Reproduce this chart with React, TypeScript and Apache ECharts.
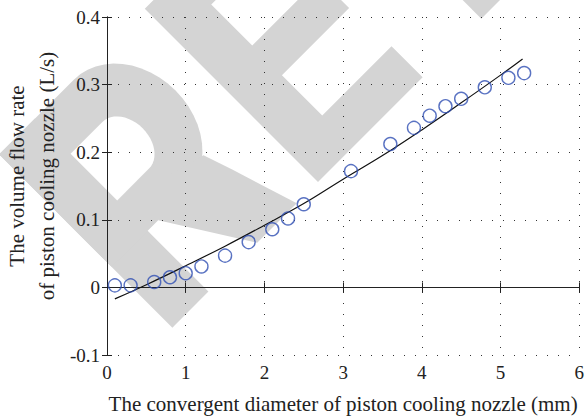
import React, { useEffect, useRef } from "react";
import * as echarts from "echarts";

// Measured points (convergent diameter, mm -> volume flow rate, L/s)
const diameters = [0.1, 0.3, 0.6, 0.8, 1.0, 1.2, 1.5, 1.8, 2.1, 2.3, 2.5, 3.1, 3.6, 3.9, 4.1, 4.3, 4.5, 4.8, 5.1, 5.3];
const flowRates = [0.003, 0.003, 0.008, 0.015, 0.021, 0.031, 0.047, 0.067, 0.086, 0.102, 0.123, 0.172, 0.212, 0.236, 0.254, 0.268, 0.279, 0.296, 0.31, 0.317];

// Fitted curve
const fitX = [0.1, 0.5, 1.0, 1.5, 2.0, 2.5, 3.0, 3.5, 4.0, 4.5, 5.0, 5.28];
const fitY = [-0.017, 0.004, 0.032, 0.061, 0.092, 0.124, 0.16, 0.195, 0.233, 0.273, 0.314, 0.338];

const xRange = [0, 6];
const yRange = [-0.1, 0.4];
const xTitle = "The convergent diameter of piston cooling nozzle (mm)";
const yTitleLines = ["The volume flow rate", "of piston cooling nozzle (L/s)"];

const SERIF = "'Liberation Serif', 'Times New Roman', serif";
const INK = "#222222";
const WM = "#d4d4d4";

// half-ellipse (right side) helper for the watermark letter shapes
function rightArc(cx: number, cy: number, rx: number, ry: number, n = 24) {
  const pts: number[][] = [];
  for (let i = 0; i <= n; i++) {
    const a = Math.PI / 2 - (Math.PI * i) / n;
    pts.push([cx + rx * Math.cos(a), cy - ry * Math.sin(a)]);
  }
  return pts;
}

function watermark() {
  const poly = (points: number[][], fill = WM) => ({
    type: "polygon",
    z: -10,
    silent: true,
    shape: { points },
    style: { fill },
  });
  // local coordinates: x along the baseline, y = -height
  const E = [[0, 0], [148, 0], [148, -44], [50, -44], [50, -101], [145, -101], [145, -143], [50, -143], [50, -201], [145, -201], [145, -245], [0, -245]];
  const Tstem = [[231, 0], [281, 0], [281, -245], [231, -245]];
  const Tbar = [[161, -201], [351, -201], [351, -245], [161, -245]];
  const Rstem = [[-206, 0], [-155, 0], [-155, -245], [-206, -245]];
  const Rbowl = [[-206, -245], ...rightArc(-100, -165.5, 64, 79.5).map(([x, y]) => [x, y]), [-206, -86]];
  // rightArc gives y going from top (cy - ry) to bottom (cy + ry)
  const Rhole = [[-155, -195], ...rightArc(-110, -162, 24, 33), [-155, -129]];
  const Rleg = [[-140, -86], [-86, 0], [-30, 0], [-52, -70], [-62, -100], [-100, -110]];
  return {
    type: "group",
    x: 318,
    y: 182,
    rotation: Math.PI / 4,
    silent: true,
    z: -10,
    children: [poly(E), poly(Tstem), poly(Tbar), poly(Rstem), poly(Rbowl), poly(Rleg), poly(Rhole, "#ffffff")],
  };
}

export default function App() {
  const ref = useRef<HTMLDivElement>(null);

  useEffect(() => {
    if (!ref.current) return;
    const chart = echarts.init(ref.current, null, { renderer: "svg" });

    const scatterData = diameters.map((d, i) => [d, flowRates[i]]);
    const fitData = fitX.map((d, i) => [d, fitY[i]]);

    const axisLine = { show: true, lineStyle: { color: INK, width: 1 } };
    const axisTick = { show: true, inside: true, length: 5, lineStyle: { color: INK, width: 1 } };
    const splitLine = { show: true, lineStyle: { color: "#333", width: 1, type: [1, 10] as any } };

    chart.setOption({
      animation: false,
      backgroundColor: "#ffffff",
      grid: { left: 107, right: 4, top: 17, bottom: 63, containLabel: false },
      graphic: [
        watermark(),
        {
          type: "text",
          x: 32,
          y: 176,
          rotation: Math.PI / 2,
          style: {
            text: yTitleLines.join("\n"),
            fill: INK,
            font: `21px ${SERIF}`,
            lineHeight: 30,
            align: "center",
            verticalAlign: "middle",
          },
        },
      ],
      xAxis: [
        {
          type: "value",
          position: "bottom",
          min: xRange[0],
          max: xRange[1],
          interval: 1,
          axisLine,
          axisTick,
          splitLine,
          axisLabel: { show: true, margin: 8, color: INK, fontSize: 19, fontFamily: SERIF },
          name: xTitle,
          nameLocation: "middle",
          nameGap: 38,
          nameTextStyle: { color: INK, fontSize: 21, fontFamily: SERIF },
        },
        {
          type: "value",
          position: "top",
          min: xRange[0],
          max: xRange[1],
          interval: 1,
          axisLine,
          axisTick,
          splitLine: { show: false },
          axisLabel: { show: false },
        },
      ],
      yAxis: [
        {
          type: "value",
          position: "left",
          min: yRange[0],
          max: yRange[1],
          interval: 0.1,
          axisLine,
          axisTick,
          splitLine,
          axisLabel: {
            show: true,
            margin: 7,
            color: INK,
            fontSize: 19,
            fontFamily: SERIF,
            formatter: (v: number) => String(+v.toFixed(1)),
          },
        },
        {
          type: "value",
          position: "right",
          min: yRange[0],
          max: yRange[1],
          interval: 0.1,
          axisLine,
          axisTick,
          splitLine: { show: false },
          axisLabel: { show: false },
        },
      ],
      series: [
        {
          type: "line",
          data: fitData,
          smooth: 0.4,
          symbol: "none",
          lineStyle: { color: "#111111", width: 1.2 },
          z: 3,
        },
        {
          type: "scatter",
          data: scatterData,
          symbol: "circle",
          symbolSize: 13,
          itemStyle: { color: "rgba(0,0,0,0)", borderColor: "#2f4fb3", borderWidth: 1.4 },
          z: 4,
        },
      ],
    });

    return () => chart.dispose();
  }, []);

  return (
    <div
      ref={ref}
      style={{ position: "fixed", left: 0, top: 0, width: 587, height: 419 }}
    />
  );
}
